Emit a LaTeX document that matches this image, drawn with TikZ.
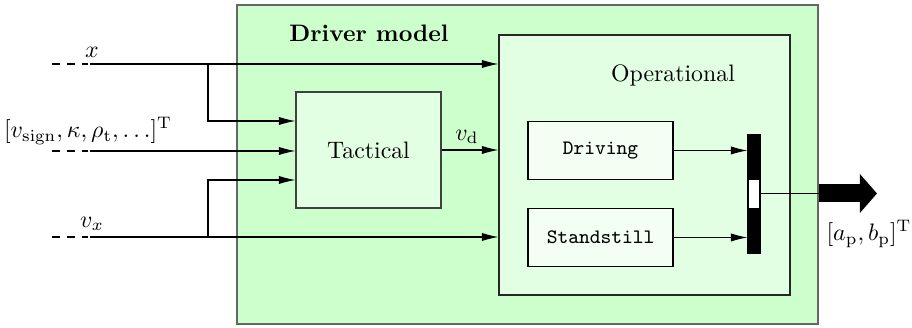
\documentclass[tikz,border=0pt]{standalone}
\usetikzlibrary{arrows.meta,calc}
\definecolor{outerfill}{HTML}{CCFFCC}
\definecolor{opfill}{HTML}{E3FFE3}
\definecolor{subfill}{HTML}{F2FFF2}
\def\pxu{0.42}
\begin{document}
\begin{tikzpicture}[x=\pxu pt,y=-\pxu pt,
  box/.style={draw, rectangle, inner sep=0pt, line width=0.45pt},
  arr/.style={-{Latex[length=7pt,width=3.5pt]}, line width=0.45pt},
  plain/.style={line width=0.45pt},
  dashin/.style={line width=0.45pt, dash pattern=on 3.3pt off 3pt},
  ttlabel/.style={font=\fontsize{8.6}{10}\selectfont\ttfamily}]
\useasboundingbox (0,0) rectangle (912,328);
% boxes
\node[box, draw=black!60, fill=outerfill, minimum width=581*\pxu pt, minimum height=319*\pxu pt] (drv) at (527.5,164.5) {};
\node[font=\bfseries] (drvlabel) at (369,33) {Driver model};
\node[box, draw=black!85, fill=opfill, minimum width=291*\pxu pt, minimum height=260*\pxu pt] (op) at (644.5,165) {};
\node (oplabel) at (673,75) {Operational};
\node[box, draw=black!75, fill=opfill, minimum width=145*\pxu pt, minimum height=116*\pxu pt] (tac) at (368.5,150) {Tactical};
\node[box, fill=subfill, minimum width=145*\pxu pt, minimum height=58*\pxu pt, ttlabel] (driving) at (600.5,150.5) {Driving};
\node[box, fill=subfill, minimum width=145*\pxu pt, minimum height=58*\pxu pt, ttlabel] (stand) at (600.5,237.5) {Standstill};
% switch
\node[box, fill=black, minimum width=12*\pxu pt, minimum height=118*\pxu pt] (sw) at (754,194) {};
\node[box, fill=white, line width=0.3pt, minimum width=10.5*\pxu pt, minimum height=29*\pxu pt] (swin) at (754,193.5) {};
% inputs
\coordinate (xs) at (52,64);
\coordinate (xd) at (88,64);
\coordinate (xm) at (90,64);
\coordinate (xb) at (208,64);
\coordinate (ks) at (52,151);
\coordinate (kd) at (88,151);
\coordinate (km) at (90,151);
\coordinate (vs) at (52,237);
\coordinate (vd) at (88,237);
\coordinate (vm) at (90,237);
\coordinate (vb) at (208,237);
\draw[dashin] (xs) -- (xd);
\draw[dashin] (ks) -- (kd);
\draw[dashin] (vs) -- (vd);
\draw[arr] (xm) -- (xm -| op.west);
\draw[arr] (xb) |- ($(tac.west)+(0,-29)$);
\draw[arr] (km) -- (km -| tac.west);
\draw[arr] (vm) -- (vm -| op.west);
\draw[arr] (vb) |- ($(tac.west)+(0,30)$);
\node (xlab) at (92,52) {$x$};
\node (klab) at (88,131) {$[v_{\mathrm{sign}},\kappa,\rho_{\mathrm{t}},\dots]^{\mathrm{T}}$};
\node (vxlab) at (92,224) {$v_x$};
% tactical to operational
\draw[arr] (tac.east) -- (tac.east -| op.west);
\node (vdlab) at (467,137) {$v_{\mathrm{d}}$};
% to switch
\draw[arr] (driving.east) -- (driving.east -| sw.west);
\draw[arr] (stand.east) -- (stand.east -| sw.west);
% output
\coordinate (outend) at (877,193.5);
\draw[plain] (swin.east) -- (swin.east -| drv.east);
\draw[line width=18*\pxu pt, -{Triangle[length=7.2pt,width=16pt]}] (swin.east -| drv.east) -- (outend);
\node (outlab) at (869,234) {$[a_{\mathrm{p}},b_{\mathrm{p}}]^{\mathrm{T}}$};
\end{tikzpicture}
\end{document}
